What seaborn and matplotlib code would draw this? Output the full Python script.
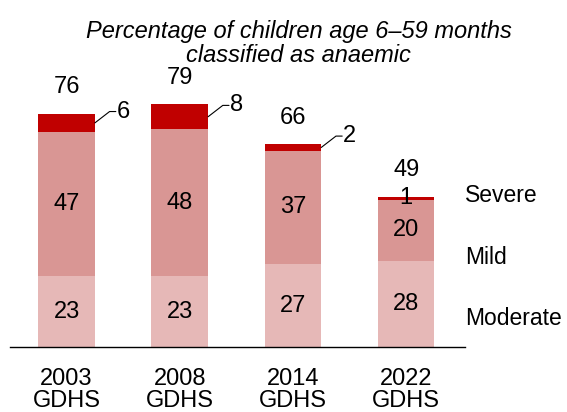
import matplotlib
matplotlib.use("Agg")
import matplotlib.pyplot as plt
import seaborn as sns
import pandas as pd

surveys = ["2003\nGDHS", "2008\nGDHS", "2014\nGDHS", "2022\nGDHS"]
moderate = [23, 23, 27, 28]
mild = [47, 48, 37, 20]
severe = [6, 8, 2, 1]
totals = [76, 79, 66, 49]
series_names = ["Moderate", "Mild", "Severe"]

c_moderate = "#E6B8B7"
c_mild = "#D99694"
c_severe = "#C00000"

sns.set_theme(style="white")
plt.rcParams["font.family"] = ["Liberation Sans", "DejaVu Sans"]
plt.rcParams["text.color"] = "black"
plt.rcParams["xtick.color"] = "black"

df = pd.DataFrame({
    "survey": surveys,
    "moderate": moderate,
    "mild_top": [a + b for a, b in zip(moderate, mild)],
    "total": [a + b + c for a, b, c in zip(moderate, mild, severe)],
})

fig = plt.figure(figsize=(5.67, 4.12), dpi=100)
ax = fig.add_axes([10 / 567, 65 / 412, 455 / 567, 307 / 412])

# stacked bars drawn as overlapping cumulative layers
for col, colour in [("total", c_severe), ("mild_top", c_mild), ("moderate", c_moderate)]:
    sns.barplot(data=df, x="survey", y=col, color=colour, width=0.5,
                saturation=1, linewidth=0, ax=ax)

ax.set_xlim(-0.5, 3.52)
ax.set_ylim(0, 100)
ax.set_xlabel("")
ax.set_ylabel("")
ax.set_yticks([])
for s in ["top", "right", "left"]:
    ax.spines[s].set_visible(False)
ax.spines["bottom"].set_color("black")
ax.spines["bottom"].set_linewidth(1.0)
ax.tick_params(axis="x", length=0, labelsize=17, pad=15, labelcolor="black")
for lbl in ax.get_xticklabels():
    lbl.set_linespacing(1.0)

fs = 17
for i in range(len(surveys)):
    m, md, sv, tot = moderate[i], mild[i], severe[i], totals[i]
    ax.text(i, m / 2, str(m), ha="center", va="center", fontsize=fs)
    ax.text(i, m + md / 2, str(md), ha="center", va="center", fontsize=fs)
    ax.text(i, tot + 8.6, str(tot), ha="center", va="center", fontsize=fs)
    ymid = m + md + sv / 2
    if sv >= 2:
        x0 = i + 0.25
        x1 = x0 + 0.13
        y1 = ymid + 3.7
        ax.plot([x0, x1, x1 + 0.055], [ymid, y1, y1], color="black", lw=0.8,
                clip_on=False)
        ax.text(x1 + 0.065, y1, str(sv), ha="left", va="center", fontsize=fs)
    else:
        ax.text(i, ymid, str(sv), ha="center", va="center", fontsize=fs)

# series names at the right of the last bar
label_y = [9.4, 29.3, 49.5]
for name, y in zip(series_names, label_y):
    ax.text(3.52, y, name, ha="left", va="center", fontsize=16.5, clip_on=False)

fig.text(0.527, 0.895, "Percentage of children age 6\u201359 months\nclassified as anaemic",
         ha="center", va="center", fontsize=17, style="italic", linespacing=1.08)

fig.savefig("out.png", dpi=100)
